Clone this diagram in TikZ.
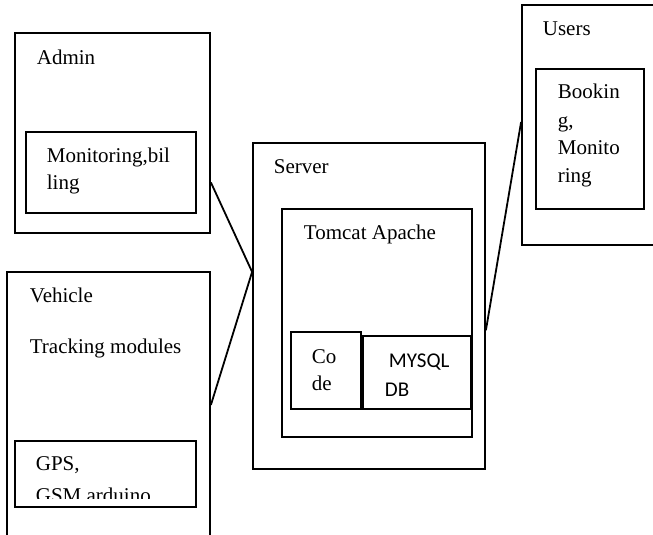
\documentclass[tikz,border=0pt]{standalone}
\usepackage{fontspec}
\setmainfont{Liberation Serif}
\newfontfamily\sansfont{Carlito}
\usetikzlibrary{fit,calc}

\tikzset{
  box/.style={draw,line width=0.9pt,inner sep=0pt},
  txt/.style={anchor=base west,inner sep=0pt,align=left,font=\fontsize{10.5}{13.5}\selectfont},
}

\begin{document}
\begin{tikzpicture}[x=0.5pt,y=-0.5pt,line width=0.9pt]
  \clip (0,0) rectangle (653,535);
  % admin
  \node[box,fit={(15,33) (210,233)}] (admin) {};
  \node[box,fit={(26,132) (196,213)}] (bill) {};
  \node[txt] (admint) at (36,65) {Admin};
  \node[txt] (billt) at (46,190) {Monitoring,bil\\ling};
  % vehicle
  \node[box,fit={(7,272) (210,545)}] (vehicle) {};
  \node[box,fit={(15,441) (196,507)}] (gps) {};
  \node[txt] (vehiclet) at (29,302) {Vehicle};
  \node[txt] (trackt) at (29,353) {Tracking modules};
  \begin{scope}
    \clip (15,441) rectangle (196,498);
    \node[txt,font=\fontsize{10.5}{16}\selectfont] (gpst) at (35,502) {GPS,\\GSM arduino};
  \end{scope}
  % server
  \node[box,fit={(253,143) (485,469)}] (server) {};
  \node[box,fit={(282,209) (472,437)}] (tomcat) {};
  \node[box,fit={(291,332) (361,409)}] (code) {};
  \node[box,fit={(363,336) (471,409)}] (db) {};
  \node[txt] (servert) at (273,173) {Server};
  \node[txt] (tomcatt) at (303,239) {Tomcat Apache};
  \node[txt] (codet) at (311,390) {Co\\de};
  \node[txt,font=\sansfont\fontsize{10.5}{14.5}\selectfont] (dbt) at (388,367) {MYSQL};
  \node[txt,font=\sansfont\fontsize{10.5}{14.5}\selectfont] (dbt2) at (384,396) {DB};
  % users
  \node[box,fit={(522,5) (665,245)}] (users) {};
  \node[box,fit={(536,69) (644,209)}] (book) {};
  \node[txt] (userst) at (542,36) {Users};
  \node[txt,font=\fontsize{10.5}{14}\selectfont] (bookt) at (557,183) {Bookin\\g,\\Monito\\ring};
  % links
  \coordinate (hub) at ($(server.north west)!0.396!(server.south west)$);
  \coordinate (adminout) at ($(admin.north east)!0.745!(admin.south east)$);
  \coordinate (vehicleout) at ($(vehicle.north east)!0.487!(vehicle.south east)$);
  \coordinate (serverout) at ($(server.north east)!0.574!(server.south east)$);
  \coordinate (usersin) at ($(users.north west)!0.4875!(users.south west)$);
  \draw (adminout) -- (hub) -- (vehicleout);
  \draw (serverout) -- (usersin);
\end{tikzpicture}
\end{document}
